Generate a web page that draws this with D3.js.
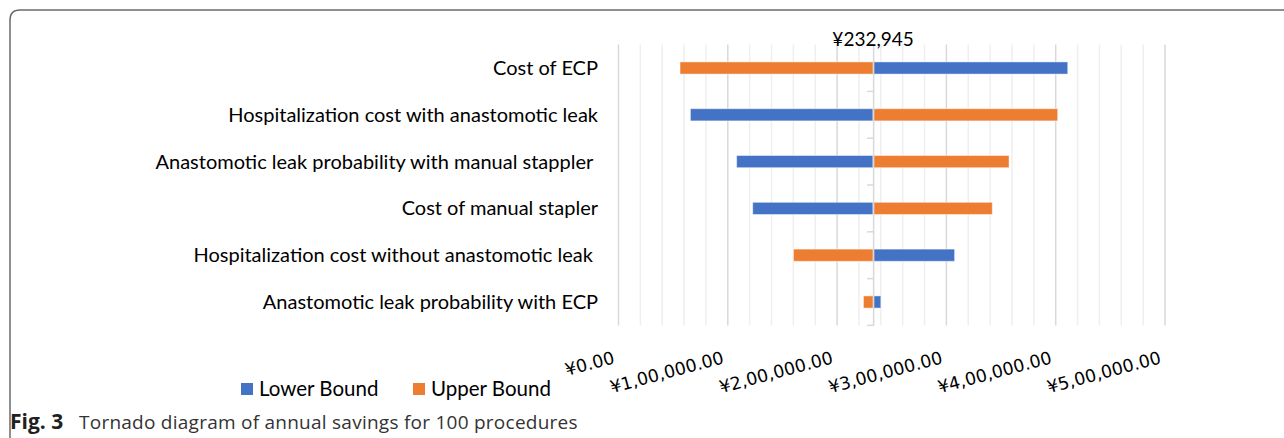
<!DOCTYPE html>
<html>
<head>
<meta charset="utf-8">
<script src="https://cdn.jsdelivr.net/npm/d3@7"></script>
<style>
  body { margin: 0; background: #fff; }
  svg { display: block; }
</style>
</head>
<body>
<div class="tornado"></div>
<script>
var width = 1284,
  height = 438

// data
var categories = [
  'Cost of ECP',
  'Hospitalization cost with anastomotic leak',
  'Anastomotic leak probability with manual stappler ',
  'Cost of manual stapler',
  'Hospitalization cost without anastomotic leak ',
  'Anastomotic leak probability with ECP'
]
var lowerBound = [411000, 65800, 108100, 122800, 307500, 240000]
var upperBound = [56300, 401800, 357300, 342000, 160100, 224100]
var baseValue = 232945
var baseLabel = '¥232,945'
var xTicks = [0, 100000, 200000, 300000, 400000, 500000]
var xTickLabels = ['¥0.00', '¥1,00,000.00', '¥2,00,000.00', '¥3,00,000.00', '¥4,00,000.00', '¥5,00,000.00']
var seriesNames = ['Lower Bound', 'Upper Bound']
var seriesColors = ['#4472C4', '#ED7D31']
var captionBold = 'Fig. 3'
var captionText = 'Tornado diagram of annual savings for 100 procedures'

var svg = d3.select('.tornado')
  .append('svg')
  .attr('width', width)
  .attr('height', height)

// frame round the figure
svg.append('path')
  .attr('d', 'M10,' + height + ' V20 Q10,10 20,10 H' + width)
  .attr('fill', 'none')
  .attr('stroke', '#6b6b6b')
  .attr('stroke-width', 1.5)

//ADD SCALE
var xScale = d3.scaleLinear()
  .domain([0, 500000])
  .range([618.5, 1165])

var yScale = d3.scaleBand()
  .domain(categories)
  .range([44.6, 325.4])
  .paddingInner(0.74)
  .paddingOuter(0.37)

var plotTop = yScale.range()[0], plotBottom = yScale.range()[1]

// gridlines, minor every 20k, major every 100k
svg.append('g')
  .selectAll('line')
  .data(d3.range(0, 500001, 20000).filter(function(d) { return d % 100000 != 0 }))
  .enter()
  .append('line')
  .attr('x1', function(d) { return xScale(d) })
  .attr('x2', function(d) { return xScale(d) })
  .attr('y1', plotTop)
  .attr('y2', plotBottom)
  .attr('stroke', '#efefef')
  .attr('stroke-width', 1.5)

svg.append('g')
  .selectAll('line')
  .data(xTicks)
  .enter()
  .append('line')
  .attr('x1', function(d) { return xScale(d) })
  .attr('x2', function(d) { return xScale(d) })
  .attr('y1', plotTop)
  .attr('y2', plotBottom)
  .attr('stroke', '#d9d9d9')
  .attr('stroke-width', 1.5)

//ADD BARS
var rows = categories.map(function(c, i) {
  return { cat: c, lower: lowerBound[i], upper: upperBound[i] }
})

var bars = svg.append('g')
seriesNames.forEach(function(name, s) {
  bars.selectAll('rect.s' + s)
    .data(rows)
    .enter()
    .append('rect')
    .attr('class', 's' + s)
    .attr('x', function(d) { var v = s == 0 ? d.lower : d.upper; return xScale(Math.min(v, baseValue)) })
    .attr('y', function(d) { return yScale(d.cat) })
    .attr('width', function(d) { var v = s == 0 ? d.lower : d.upper; return Math.abs(xScale(v) - xScale(baseValue)) })
    .attr('height', yScale.bandwidth())
    .attr('fill', seriesColors[s])
    .attr('stroke', '#fff')
    .attr('stroke-opacity', 0.45)
    .attr('stroke-width', 1)
})

// category axis sitting at the base value
var yAxis = d3.axisLeft(yScale).tickSize(0).tickFormat('')
var axisG = svg.append('g')
  .attr('transform', 'translate(' + xScale(baseValue) + ',0)')
  .call(yAxis)
axisG.select('.domain').attr('stroke', '#d9d9d9').attr('stroke-width', 1.5)
axisG.selectAll('.bound')
  .data(d3.range(categories.length + 1))
  .enter()
  .append('line')
  .attr('x1', -6)
  .attr('x2', 0)
  .attr('y1', function(i) { return plotTop + i * yScale.step() })
  .attr('y2', function(i) { return plotTop + i * yScale.step() })
  .attr('stroke', '#d9d9d9')
  .attr('stroke-width', 1.5)

// category labels on the left
svg.append('g')
  .selectAll('text')
  .data(categories)
  .enter()
  .append('text')
  .attr('x', 598)
  .attr('y', function(d) { return yScale(d) + yScale.bandwidth() / 2 })
  .attr('dy', '0.35em')
  .attr('text-anchor', 'end')
  .style('white-space', 'pre')
  .attr('font-family', 'Lato, sans-serif')
  .attr('font-size', '20px')
  .attr('fill', '#000')
  .text(function(d) { return d })

// base value label
svg.append('text')
  .attr('x', xScale(baseValue))
  .attr('y', 46)
  .attr('text-anchor', 'middle')
  .attr('font-family', 'Lato, sans-serif')
  .attr('font-size', '19px')
  .text(baseLabel)

// x tick labels, slanted
svg.append('g')
  .selectAll('text')
  .data(xTicks)
  .enter()
  .append('text')
  .attr('transform', function(d) { return 'translate(' + (xScale(d) - 3) + ',363) rotate(-15)' })
  .attr('text-anchor', 'end')
  .attr('font-family', 'DejaVu Sans, sans-serif')
  .attr('font-size', '17.5px')
  .text(function(d, i) { return xTickLabels[i] })

// legend
var legend = svg.append('g')
  .selectAll('g')
  .data(seriesNames)
  .enter()
  .append('g')
  .attr('transform', function(d, i) { return 'translate(' + (241 + i * 172) + ',383)' })
legend.append('rect')
  .attr('width', 12)
  .attr('height', 12)
  .attr('fill', function(d, i) { return seriesColors[i] })
legend.append('text')
  .attr('x', 18)
  .attr('y', 13)
  .attr('font-family', 'Lato, sans-serif')
  .attr('font-size', '20.5px')
  .text(function(d) { return d })

// caption
var cap = svg.append('text')
  .attr('y', 429)
  .attr('font-family', 'Open Sans, sans-serif')
  .attr('font-size', '19px')
  .attr('fill', '#333')
cap.append('tspan').attr('x', 10).attr('font-weight', 'bold').attr('font-size', '21px').attr('fill', '#231f20').text(captionBold)
cap.append('tspan').attr('x', 79).attr('letter-spacing', '0.25px').text(captionText)
</script>
</body>
</html>
